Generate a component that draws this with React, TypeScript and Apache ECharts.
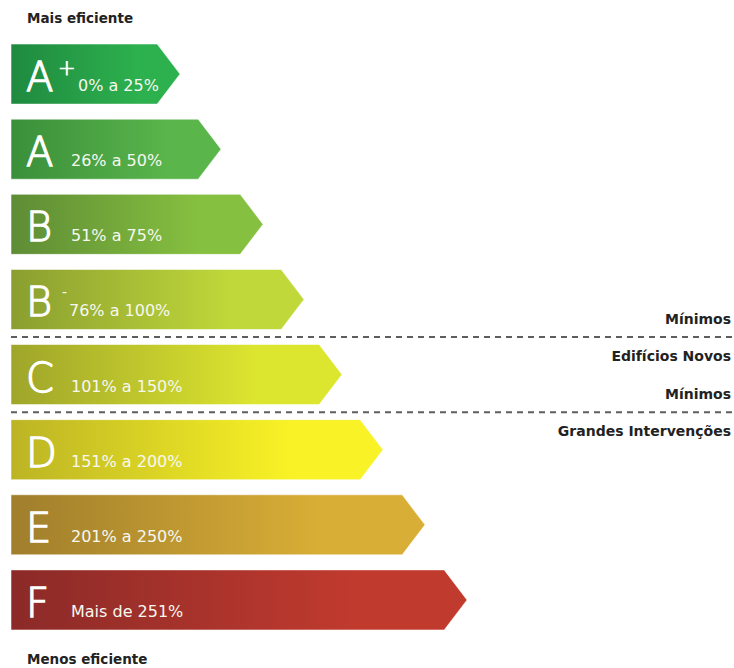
import React, { useEffect, useRef } from 'react';
import * as echarts from 'echarts';

// Energy classes (top = most efficient)
const classes = ['A+', 'A', 'B', 'B-', 'C', 'D', 'E', 'F'];
const letters = ['A', 'A', 'B', 'B', 'C', 'D', 'E', 'F'];
const superscripts = ['+', '', '', '-', '', '', '', ''];
const ranges = ['0% a 25%', '26% a 50%', '51% a 75%', '76% a 100%', '101% a 150%', '151% a 200%', '201% a 250%', 'Mais de 251%'];
// arrow lengths (relative units)
const lengths = [169, 210, 252, 293, 331, 372, 414, 456];
const colorsStart = ['#1f8a3f', '#3a8f3a', '#5e8c35', '#8a9e30', '#9fa52a', '#bcb424', '#a07e2c', '#8b2a28'];
const colorsEnd = ['#2db04e', '#5ab54b', '#86c040', '#c0d83a', '#dde62f', '#f8f226', '#d9ae36', '#c03a2e'];
// threshold separators: drawn below these classes
const thresholdAfter = ['B-', 'C'];
const thresholdAbove = ['Mínimos', 'Mínimos'];
const thresholdBelow = ['Edifícios Novos', 'Grandes Intervenções'];
const topLabel = 'Mais eficiente';
const bottomLabel = 'Menos eficiente';

const FONT = '"DejaVu Sans", Verdana, sans-serif';

function txt(x: number, y: number, text: string, fontSize: number, opts: any = {}) {
  const style: any = {
    text,
    fontSize,
    fontFamily: FONT,
    fontWeight: opts.fontWeight || 'normal',
    fill: opts.fill || '#fff',
    align: opts.align || 'left',
    verticalAlign: 'middle',
    textAlign: opts.align || 'left',
    textVerticalAlign: 'middle',
  };
  if (opts.stroke) {
    style.stroke = opts.stroke;
    style.lineWidth = opts.lineWidth || 1;
  }
  return { type: 'text', x, y, style };
}

export default function App() {
  const ref = useRef<HTMLDivElement>(null);

  useEffect(() => {
    if (!ref.current) return;
    const chart = echarts.init(ref.current, null, { renderer: 'svg' });

    const renderItem = (params: any, api: any) => {
      const i = params.dataIndex;
      const len = api.value(0);
      const cat = api.value(1);
      const start = api.coord([0, cat]);
      const end = api.coord([len, cat]);
      const bandH = api.size([0, 1])[1];
      const h = bandH * 0.8;
      const top = start[1] - h / 2;
      const bottom = start[1] + h / 2;
      const depth = h * 0.38;
      const x0 = start[0];
      const tip = end[0];

      const children: any[] = [
        {
          type: 'polygon',
          shape: {
            points: [
              [x0, top],
              [tip - depth, top],
              [tip, start[1]],
              [tip - depth, bottom],
              [x0, bottom],
            ],
          },
          style: {
            fill: new echarts.graphic.LinearGradient(0, 0, 1, 0, [
              { offset: 0, color: colorsStart[i] },
              { offset: 0.75, color: colorsEnd[i] },
              { offset: 1, color: colorsEnd[i] },
            ]),
            stroke: 'rgba(255,255,255,0.55)',
            lineWidth: 1,
          },
        },
      ];

      const baseline = top + 47;
      children.push(txt(x0 + 15, baseline - 14, letters[i], 40, { fontWeight: 200, stroke: '#fff', lineWidth: 1.3 }));
      const sup = superscripts[i];
      let textX = x0 + 60;
      if (sup === '+') {
        children.push(txt(x0 + 47, top + 24, '+', 21, { fontWeight: 200, stroke: '#fff', lineWidth: 0.8 }));
        textX = x0 + 67;
      } else if (sup === '-') {
        children.push(txt(x0 + 51, top + 23, '-', 14, { fontWeight: 'normal' }));
        textX = x0 + 58;
      }
      children.push(txt(textX, baseline - 5.5, ranges[i], 16, { fill: '#f6f8f0' }));

      const th = thresholdAfter.indexOf(classes[i]);
      if (th >= 0) {
        const ly = start[1] + bandH / 2;
        const right = api.getWidth();
        children.push({
          type: 'line',
          shape: { x1: x0, y1: ly, x2: right, y2: ly },
          style: { stroke: '#5e5e5e', lineWidth: 2, lineDash: [6, 5] },
        });
        children.push(txt(right - 3, ly - 18, thresholdAbove[th], 14, { fontWeight: 'bold', fill: '#222', align: 'right' }));
        children.push(txt(right - 3, ly + 19, thresholdBelow[th], 14, { fontWeight: 'bold', fill: '#222', align: 'right' }));
      }

      return { type: 'group', children };
    };

    chart.setOption({
      animation: false,
      backgroundColor: '#fff',
      grid: { left: 11, right: 0, top: 36.5, bottom: 30.5 },
      xAxis: { type: 'value', min: 0, max: 723, show: false },
      yAxis: { type: 'category', data: classes, inverse: true, show: false },
      graphic: [
        {
          type: 'text',
          left: 27,
          top: 11,
          style: { text: topLabel, fontSize: 13.5, fontWeight: 'bold', fontFamily: FONT, fill: '#222' },
        },
        {
          type: 'text',
          left: 27,
          top: 652,
          style: { text: bottomLabel, fontSize: 13.5, fontWeight: 'bold', fontFamily: FONT, fill: '#222' },
        },
      ],
      series: [
        {
          type: 'custom',
          renderItem,
          clip: false,
          data: lengths.map((v, i) => [v, i]),
        },
      ],
    });

    return () => chart.dispose();
  }, []);

  return <div ref={ref} style={{ position: 'fixed', left: 0, top: 0, width: 734, height: 668 }} />;
}
